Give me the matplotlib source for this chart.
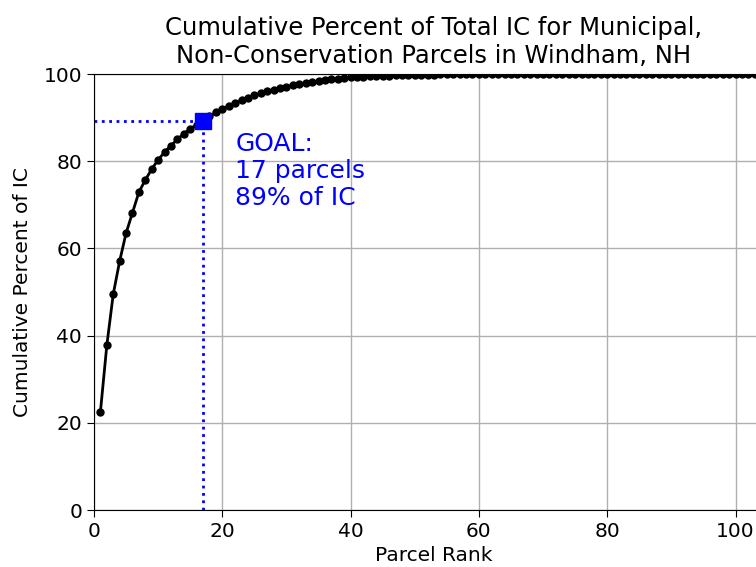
import matplotlib
matplotlib.use('Agg')
import matplotlib.pyplot as plt

# cumulative percent of total impervious cover, parcels ranked by IC
cum_pct = [22.5, 37.8, 49.5, 57.1, 63.5, 68.2, 72.9, 75.7, 78.2, 80.3,
           82.1, 83.6, 85.0, 86.3, 87.4, 88.4, 89.2, 90.3, 91.2, 92.0,
           92.7, 93.4, 94.0, 94.6, 95.1, 95.6, 96.0, 96.4, 96.8, 97.1,
           97.4, 97.7, 97.95, 98.2, 98.4, 98.6, 98.8, 98.95, 99.1, 99.2,
           99.3, 99.4, 99.5, 99.55, 99.6, 99.65, 99.7, 99.75, 99.8, 99.82,
           99.84, 99.86, 99.88, 99.89, 99.9, 99.91, 99.92, 99.93, 99.94, 99.94,
           99.95, 99.95, 99.96, 99.96, 99.96, 99.97, 99.97, 99.97, 99.97, 99.98,
           99.98, 99.98, 99.98, 99.98, 99.98, 99.99, 99.99, 99.99, 99.99, 99.99,
           99.99, 99.99, 99.99, 99.99, 99.99, 100.0, 100.0, 100.0, 100.0, 100.0,
           100.0, 100.0, 100.0, 100.0, 100.0, 100.0, 100.0, 100.0, 100.0, 100.0,
           100.0, 100.0, 100.0, 100.0, 100.0, 100.0, 100.0, 100.0]
ranks = list(range(1, len(cum_pct) + 1))

goal_rank = 17
goal_pct = 89.2

fig = plt.figure(figsize=(7.56, 5.67), dpi=100)
# the original figure was wider than this crop, so the axes run off the right edge
ax = fig.add_axes([94 / 756, 57 / 567, 680 / 756, 436 / 567])

ax.plot(ranks, cum_pct, color='black', linewidth=2, marker='o', markersize=5, zorder=3)

# goal lines and marker
ax.plot([0, goal_rank], [goal_pct, goal_pct], color='blue', linestyle=':', linewidth=2)
ax.plot([goal_rank, goal_rank], [0, goal_pct], color='blue', linestyle=':', linewidth=2)
ax.plot([goal_rank], [goal_pct], color='blue', marker='s', markersize=11, zorder=4)

ax.text(22, 86.6, 'GOAL:\n17 parcels\n89% of IC', color='blue', fontsize=18,
        va='top', ha='left', linespacing=1.15)

ax.set_xlim(0, 106)
ax.set_ylim(0, 100)
ax.set_xticks([0, 20, 40, 60, 80, 100])
ax.set_yticks([0, 20, 40, 60, 80, 100])
ax.tick_params(labelsize=14.5, length=5)
ax.grid(True, color='#b0b0b0', linewidth=1)
ax.set_axisbelow(True)

ax.set_xlabel('Parcel Rank', fontsize=14.5)
ax.set_ylabel('Cumulative Percent of IC', fontsize=14.5, labelpad=8)
ax.set_title('Cumulative Percent of Total IC for Municipal,\nNon-Conservation Parcels in Windham, NH',
             fontsize=17.5, pad=8)

fig.savefig('out.png', dpi=100)
